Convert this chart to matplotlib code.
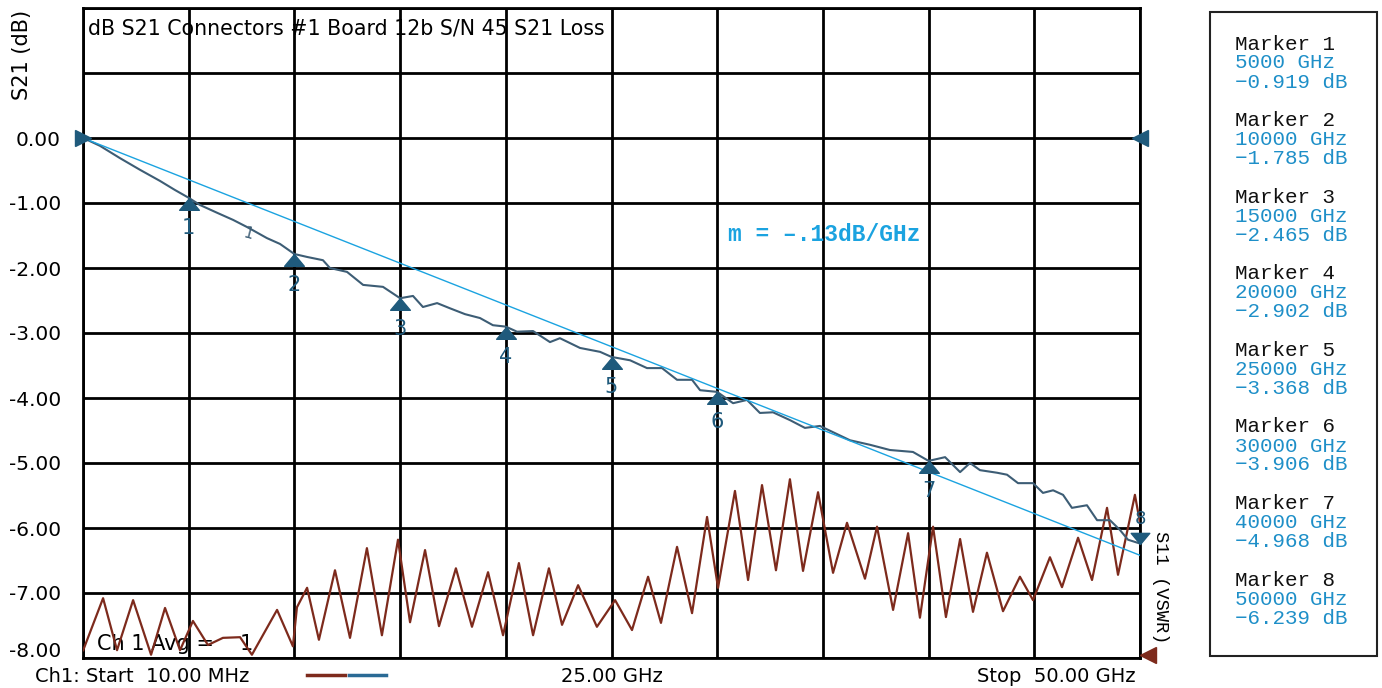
import matplotlib.pyplot as plt
import numpy as np
from matplotlib.lines import Line2D
from matplotlib.patches import Rectangle
from matplotlib.path import Path
from matplotlib.transforms import ScaledTranslation

# ---- data ----
# S21 insertion loss trace (GHz, dB)
s21_freq = [0.01, 0.80, 1.75, 2.70, 3.64, 4.35, 5.00, 5.53, 6.34, 7.10, 7.76, 8.04, 8.70, 9.32,
            10.00, 10.60, 11.35, 11.68, 12.49, 13.25, 14.19, 15.00, 15.61, 16.08, 16.75, 17.36,
            18.07, 18.78, 19.39, 20.00, 20.53, 21.29, 22.09, 22.56, 23.51, 24.46, 25.00, 25.88,
            26.68, 27.39, 28.10, 28.81, 29.19, 30.00, 30.75, 31.41, 32.02, 32.64, 33.44, 34.15,
            34.86, 35.57, 36.28, 37.23, 38.17, 39.26, 40.00, 40.78, 41.49, 41.96, 42.43, 43.24,
            43.71, 44.23, 44.94, 45.41, 45.89, 46.36, 46.78, 47.49, 47.97, 48.58, 49.05, 49.43, 50.00]
s21_db = [0.00, -0.12, -0.31, -0.49, -0.66, -0.80, -0.92, -1.03, -1.15, -1.26, -1.37, -1.42, -1.54, -1.63,
          -1.785, -1.83, -1.88, -2.00, -2.06, -2.26, -2.29, -2.465, -2.43, -2.60, -2.54, -2.62,
          -2.71, -2.77, -2.88, -2.902, -2.98, -2.97, -3.14, -3.08, -3.23, -3.29, -3.368, -3.42,
          -3.54, -3.54, -3.72, -3.72, -3.88, -3.906, -4.08, -4.03, -4.23, -4.22, -4.34, -4.46,
          -4.43, -4.54, -4.65, -4.72, -4.80, -4.83, -4.968, -4.91, -5.14, -5.00, -5.11, -5.15,
          -5.18, -5.31, -5.31, -5.46, -5.42, -5.49, -5.69, -5.65, -5.88, -5.88, -6.03, -6.18, -6.239]

# S11 trace, plotted on the same screen scale (GHz, screen dB)
s11_freq = [0.01, 0.95, 1.61, 2.37, 3.22, 3.88, 4.59, 5.20, 5.91, 6.62, 7.43, 7.99, 9.18, 9.93,
            10.12, 10.60, 11.16, 11.92, 12.63, 13.43, 14.14, 14.90, 15.47, 16.18, 16.84, 17.64,
            18.40, 19.16, 19.87, 20.62, 21.29, 22.04, 22.66, 23.42, 24.31, 25.17, 25.97, 26.73,
            27.34, 28.10, 28.81, 29.52, 30.04, 30.84, 31.46, 32.12, 32.78, 33.44, 34.06, 34.77,
            35.48, 36.14, 36.99, 37.56, 38.32, 39.03, 39.59, 40.21, 40.82, 41.49, 42.10, 42.76,
            43.52, 44.32, 44.94, 45.74, 46.31, 47.07, 47.73, 48.44, 48.96, 49.76, 50.00]
s11_db = [-7.88, -7.08, -7.88, -7.11, -7.95, -7.23, -7.88, -7.43, -7.80, -7.69, -7.68, -7.95, -7.26, -7.82,
          -7.22, -6.92, -7.72, -6.65, -7.69, -6.31, -7.65, -6.18, -7.45, -6.34, -7.51, -6.62,
          -7.52, -6.68, -7.65, -6.54, -7.65, -6.62, -7.49, -6.88, -7.52, -7.11, -7.57, -6.75,
          -7.46, -6.29, -7.31, -5.83, -6.92, -5.43, -6.80, -5.34, -6.65, -5.25, -6.66, -5.45,
          -6.69, -5.92, -6.78, -5.98, -7.26, -6.08, -7.38, -5.98, -7.37, -6.17, -7.29, -6.38,
          -7.28, -6.75, -7.11, -6.45, -6.91, -6.15, -6.80, -5.69, -6.72, -5.49, -5.92]

# straight-line fit
fit_freq = [0.0, 50.0]
fit_db = [0.0, -6.42]

# markers
marker_ids = [1, 2, 3, 4, 5, 6, 7, 8]
marker_freq = [5, 10, 15, 20, 25, 30, 40, 50]
marker_db = [-0.919, -1.785, -2.465, -2.902, -3.368, -3.906, -4.968, -6.239]

ytick_vals = [0, -1, -2, -3, -4, -5, -6, -7, -8]

# ---- styling ----
S21_COL = '#3d5d75'
S11_COL = '#7d2a1c'
FIT_COL = '#1ba3e0'
MK_COL = '#1f5a7c'
TXT_BLUE = '#1e8fc8'

W, H = 1382, 688
fig = plt.figure(figsize=(W / 100, H / 100), dpi=100)
fig.patch.set_facecolor('white')


def fx(px):
    return px / W


def fy(py):
    return 1 - py / H


ax = fig.add_axes([fx(83), fy(658), fx(1140) - fx(83), fy(8) - fy(658)])
ax.set_xlim(0, 50)
ax.set_ylim(-8, 2)
ax.set_xticks(np.arange(0, 51, 5))
ax.set_yticks(np.arange(-8, 3, 1))
ax.set_xticklabels([])
ax.set_yticklabels(['%.2f' % v if v in ytick_vals else '' for v in np.arange(-8, 3, 1)],
                   fontsize=14.5, family='DejaVu Sans')
ax.tick_params(length=0, pad=16)
# bottom label sits a bit higher, as on the instrument screen
bottom_lbl = ax.get_yticklabels()[0]
bottom_lbl.set_transform(bottom_lbl.get_transform() + ScaledTranslation(0, 6 / 72, fig.dpi_scale_trans))
ax.grid(True, color='black', lw=2.0)
for s in ax.spines.values():
    s.set_color('black')
    s.set_linewidth(2.0)

# traces
ax.plot(s11_freq, s11_db, color=S11_COL, lw=1.6, zorder=3)
ax.plot(s21_freq, s21_db, color=S21_COL, lw=1.5, zorder=4)
ax.plot(fit_freq, fit_db, color=FIT_COL, lw=1.0, zorder=5)

# marker triangles (apex at the trace)
up_tri = Path([(0, 0), (-1, -1.2), (1, -1.2), (0, 0)], closed=True)
down_tri = Path([(0, 0), (-1, 1.2), (1, 1.2), (0, 0)], closed=True)
for i, f, d in zip(marker_ids, marker_freq, marker_db):
    if i == 8:
        ax.plot(f, d, marker=down_tri, ms=16, color=MK_COL, clip_on=False, zorder=6)
        ax.annotate(str(i), (f, d), xytext=(0, 18), textcoords='offset points',
                    ha='center', va='center', fontsize=13, color=MK_COL, annotation_clip=False)
    else:
        ax.plot(f, d, marker=up_tri, ms=17, color=MK_COL, zorder=6)
        ax.annotate(str(i), (f, d), xytext=(0, -22), textcoords='offset points',
                    ha='center', va='center', fontsize=15, color=MK_COL)

# small reference marker between 1 and 2
ax.text(7.8, -1.48, '1', fontsize=11, color=S21_COL, ha='center', va='center', rotation=-15)

# edge indicators
ax.plot(0, 0, marker='>', ms=11, color=MK_COL, clip_on=False, zorder=7)
ax.plot(50, 0, marker='<', ms=11, color=MK_COL, clip_on=False, zorder=7)
ax.plot(50.4, -7.95, marker='<', ms=11, color=S11_COL, clip_on=False, zorder=7)

# annotations inside plot
ax.text(0.24, 1.68, 'dB S21 Connectors #1 Board 12b S/N 45 S21 Loss',
        fontsize=14.8, ha='left', va='center', family='DejaVu Sans')
ax.text(30.5, -1.48, 'm = \u2013.13dB/GHz', fontsize=16.5, fontweight='bold', color=FIT_COL,
        ha='left', va='center', family='Liberation Mono')
ax.text(0.65, -7.78, 'Ch 1 Avg =', fontsize=15, ha='left', va='center', family='DejaVu Sans', zorder=2)
ax.text(7.4, -7.78, '1', fontsize=15, ha='left', va='center', family='DejaVu Sans', zorder=2)

# axis label texts
fig.text(fx(22), fy(55), 'S21 (dB)', rotation=90, fontsize=15, ha='center', va='center',
         family='DejaVu Sans')
fig.text(fx(1160), fy(587), 'S11 (VSWR)', rotation=270, fontsize=13.5, ha='center', va='center',
         family='Liberation Mono')

# bottom annotation line
fig.text(fx(35), fy(676), 'Ch1: Start  10.00 MHz', fontsize=14, ha='left', va='center',
         family='DejaVu Sans')
fig.text(fx(612), fy(676), '25.00 GHz', fontsize=14, ha='center', va='center', family='DejaVu Sans')
fig.text(fx(1136), fy(676), 'Stop  50.00 GHz', fontsize=14, ha='right', va='center',
         family='DejaVu Sans')
fig.add_artist(Line2D([fx(307), fx(345)], [fy(675), fy(675)], color=S11_COL, lw=2.5))
fig.add_artist(Line2D([fx(349), fx(386)], [fy(675), fy(675)], color='#2a6a95', lw=2.5))

# marker readout panel
fig.add_artist(Rectangle((fx(1210), fy(656)), fx(1377) - fx(1210), fy(12) - fy(656),
                         transform=fig.transFigure, fill=False, edgecolor='#222222', lw=1.5))
for k, (i, f, d) in enumerate(zip(marker_ids, marker_freq, marker_db)):
    y0 = 44 + k * 76.6
    fig.text(fx(1235), fy(y0), 'Marker %d' % i, fontsize=15, family='Liberation Mono',
             color='#111111', ha='left', va='center')
    fig.text(fx(1235), fy(y0 + 19), '%d GHz' % (f * 1000), fontsize=15,
             family='Liberation Mono', color=TXT_BLUE, ha='left', va='center')
    fig.text(fx(1235), fy(y0 + 38), ('%.3f dB' % d).replace('-', '\u2212'), fontsize=15,
             family=['Liberation Mono', 'DejaVu Sans Mono'], color=TXT_BLUE, ha='left', va='center')

fig.savefig('out.png', dpi=100)
